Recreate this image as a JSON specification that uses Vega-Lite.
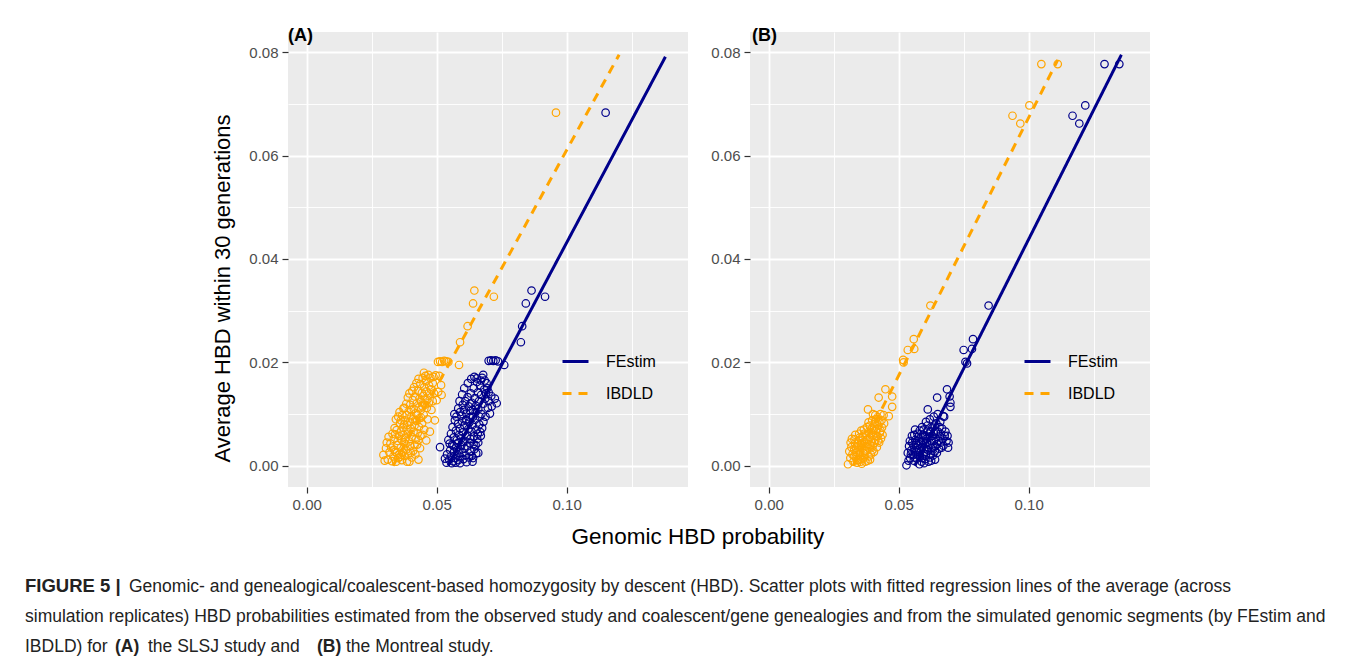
{
  "$schema": "https://vega.github.io/schema/vega-lite/v6.json",
  "background": "white",
  "padding": {"left": 25, "top": 27, "right": 0, "bottom": 0},
  "config": {
    "font": "Liberation Sans",
    "view": {"stroke": null},
    "axis": {
      "labelFont": "Liberation Sans", "labelFontSize": 15, "labelColor": "#4D4D4D",
      "tickColor": "#333333", "tickSize": 6, "tickWidth": 1.2, "labelPadding": 4,
      "domain": false, "gridColor": "white",
      "titleFont": "Liberation Sans", "titleFontSize": 22, "titleFontWeight": "normal", "titleColor": "#000000"
    },
    "legend": {"orient": "none", "legendX": 273, "legendY": 315, "title": null, "symbolType": "stroke", "symbolSize": 676, "symbolStrokeWidth": 3, "labelFontSize": 16, "labelOffset": 16, "rowPadding": 9, "padding": 0, "labelColor": "#000000", "labelFont": "Liberation Sans"}
  },
  "datasets": {
    "lines": [
      {"p": "A", "m": "FEstim", "x": 0.0544, "y": 0.0},
      {"p": "A", "m": "FEstim", "x": 0.1380, "y": 0.0791},
      {"p": "A", "m": "IBDLD", "x": 0.0332, "y": 0.0},
      {"p": "A", "m": "IBDLD", "x": 0.1202, "y": 0.0795},
      {"p": "B", "m": "FEstim", "x": 0.0562, "y": 0.0},
      {"p": "B", "m": "FEstim", "x": 0.1357, "y": 0.0795},
      {"p": "B", "m": "IBDLD", "x": 0.0325, "y": 0.0},
      {"p": "B", "m": "IBDLD", "x": 0.1112, "y": 0.0785}
    ],
    "pts": [
      {"p":"A","m":"IBDLD","x":0.0295,"y":0.0021},{"p":"A","m":"IBDLD","x":0.0305,"y":0.0034},{"p":"A","m":"IBDLD","x":0.0312,"y":0.0012},{"p":"A","m":"IBDLD","x":0.0318,"y":0.0026},{"p":"A","m":"IBDLD","x":0.0322,"y":0.0043},{"p":"A","m":"IBDLD","x":0.0328,"y":0.0009},{"p":"A","m":"IBDLD","x":0.0333,"y":0.0018},{"p":"A","m":"IBDLD","x":0.0336,"y":0.0031},{"p":"A","m":"IBDLD","x":0.0340,"y":0.0027},{"p":"A","m":"IBDLD","x":0.0344,"y":0.0008},{"p":"A","m":"IBDLD","x":0.0348,"y":0.0040},{"p":"A","m":"IBDLD","x":0.0352,"y":0.0015},{"p":"A","m":"IBDLD","x":0.0355,"y":0.0022},{"p":"A","m":"IBDLD","x":0.0359,"y":0.0017},{"p":"A","m":"IBDLD","x":0.0362,"y":0.0035},{"p":"A","m":"IBDLD","x":0.0366,"y":0.0011},{"p":"A","m":"IBDLD","x":0.0370,"y":0.0026},{"p":"A","m":"IBDLD","x":0.0374,"y":0.0045},{"p":"A","m":"IBDLD","x":0.0378,"y":0.0019},{"p":"A","m":"IBDLD","x":0.0382,"y":0.0031},{"p":"A","m":"IBDLD","x":0.0386,"y":0.0008},{"p":"A","m":"IBDLD","x":0.0390,"y":0.0024},{"p":"A","m":"IBDLD","x":0.0395,"y":0.0008},{"p":"A","m":"IBDLD","x":0.0399,"y":0.0038},{"p":"A","m":"IBDLD","x":0.0404,"y":0.0016},{"p":"A","m":"IBDLD","x":0.0410,"y":0.0029},{"p":"A","m":"IBDLD","x":0.0418,"y":0.0022},{"p":"A","m":"IBDLD","x":0.0425,"y":0.0041},{"p":"A","m":"IBDLD","x":0.0436,"y":0.0034},{"p":"A","m":"IBDLD","x":0.0430,"y":0.0012},
      {"p":"A","m":"IBDLD","x":0.0335,"y":0.0052},{"p":"A","m":"IBDLD","x":0.0340,"y":0.0061},{"p":"A","m":"IBDLD","x":0.0346,"y":0.0069},{"p":"A","m":"IBDLD","x":0.0350,"y":0.0048},{"p":"A","m":"IBDLD","x":0.0355,"y":0.0058},{"p":"A","m":"IBDLD","x":0.0359,"y":0.0082},{"p":"A","m":"IBDLD","x":0.0362,"y":0.0066},{"p":"A","m":"IBDLD","x":0.0366,"y":0.0050},{"p":"A","m":"IBDLD","x":0.0370,"y":0.0074},{"p":"A","m":"IBDLD","x":0.0373,"y":0.0060},{"p":"A","m":"IBDLD","x":0.0377,"y":0.0088},{"p":"A","m":"IBDLD","x":0.0380,"y":0.0053},{"p":"A","m":"IBDLD","x":0.0384,"y":0.0070},{"p":"A","m":"IBDLD","x":0.0387,"y":0.0079},{"p":"A","m":"IBDLD","x":0.0390,"y":0.0062},{"p":"A","m":"IBDLD","x":0.0394,"y":0.0047},{"p":"A","m":"IBDLD","x":0.0397,"y":0.0085},{"p":"A","m":"IBDLD","x":0.0400,"y":0.0072},{"p":"A","m":"IBDLD","x":0.0404,"y":0.0056},{"p":"A","m":"IBDLD","x":0.0408,"y":0.0090},{"p":"A","m":"IBDLD","x":0.0411,"y":0.0066},{"p":"A","m":"IBDLD","x":0.0415,"y":0.0078},{"p":"A","m":"IBDLD","x":0.0419,"y":0.0051},{"p":"A","m":"IBDLD","x":0.0423,"y":0.0087},{"p":"A","m":"IBDLD","x":0.0427,"y":0.0063},{"p":"A","m":"IBDLD","x":0.0432,"y":0.0075},{"p":"A","m":"IBDLD","x":0.0438,"y":0.0058},{"p":"A","m":"IBDLD","x":0.0444,"y":0.0082},{"p":"A","m":"IBDLD","x":0.0452,"y":0.0070},{"p":"A","m":"IBDLD","x":0.0474,"y":0.0066},{"p":"A","m":"IBDLD","x":0.0460,"y":0.0049},
      {"p":"A","m":"IBDLD","x":0.0372,"y":0.0111},{"p":"A","m":"IBDLD","x":0.0376,"y":0.0112},{"p":"A","m":"IBDLD","x":0.0385,"y":0.0098},{"p":"A","m":"IBDLD","x":0.0392,"y":0.0105},{"p":"A","m":"IBDLD","x":0.0398,"y":0.0118},{"p":"A","m":"IBDLD","x":0.0403,"y":0.0096},{"p":"A","m":"IBDLD","x":0.0408,"y":0.0127},{"p":"A","m":"IBDLD","x":0.0412,"y":0.0110},{"p":"A","m":"IBDLD","x":0.0416,"y":0.0134},{"p":"A","m":"IBDLD","x":0.0420,"y":0.0102},{"p":"A","m":"IBDLD","x":0.0424,"y":0.0121},{"p":"A","m":"IBDLD","x":0.0428,"y":0.0145},{"p":"A","m":"IBDLD","x":0.0431,"y":0.0113},{"p":"A","m":"IBDLD","x":0.0434,"y":0.0130},{"p":"A","m":"IBDLD","x":0.0437,"y":0.0158},{"p":"A","m":"IBDLD","x":0.0440,"y":0.0124},{"p":"A","m":"IBDLD","x":0.0443,"y":0.0141},{"p":"A","m":"IBDLD","x":0.0446,"y":0.0170},{"p":"A","m":"IBDLD","x":0.0449,"y":0.0135},{"p":"A","m":"IBDLD","x":0.0452,"y":0.0152},{"p":"A","m":"IBDLD","x":0.0455,"y":0.0118},{"p":"A","m":"IBDLD","x":0.0458,"y":0.0163},{"p":"A","m":"IBDLD","x":0.0461,"y":0.0144},{"p":"A","m":"IBDLD","x":0.0464,"y":0.0128},{"p":"A","m":"IBDLD","x":0.0468,"y":0.0176},{"p":"A","m":"IBDLD","x":0.0471,"y":0.0155},{"p":"A","m":"IBDLD","x":0.0475,"y":0.0138},{"p":"A","m":"IBDLD","x":0.0480,"y":0.0108},{"p":"A","m":"IBDLD","x":0.0493,"y":0.0088},{"p":"A","m":"IBDLD","x":0.0500,"y":0.0127},{"p":"A","m":"IBDLD","x":0.0506,"y":0.0143},{"p":"A","m":"IBDLD","x":0.0517,"y":0.0156},{"p":"A","m":"IBDLD","x":0.0519,"y":0.0137},{"p":"A","m":"IBDLD","x":0.0510,"y":0.0174},{"p":"A","m":"IBDLD","x":0.0457,"y":0.0174},{"p":"A","m":"IBDLD","x":0.0450,"y":0.0099},{"p":"A","m":"IBDLD","x":0.0440,"y":0.0093},
      {"p":"A","m":"IBDLD","x":0.0300,"y":0.0010},{"p":"A","m":"IBDLD","x":0.0308,"y":0.0045},{"p":"A","m":"IBDLD","x":0.0315,"y":0.0056},{"p":"A","m":"IBDLD","x":0.0325,"y":0.0035},{"p":"A","m":"IBDLD","x":0.0330,"y":0.0062},{"p":"A","m":"IBDLD","x":0.0338,"y":0.0073},{"p":"A","m":"IBDLD","x":0.0343,"y":0.0090},{"p":"A","m":"IBDLD","x":0.0352,"y":0.0095},{"p":"A","m":"IBDLD","x":0.0357,"y":0.0104},{"p":"A","m":"IBDLD","x":0.0362,"y":0.0088},{"p":"A","m":"IBDLD","x":0.0368,"y":0.0098},{"p":"A","m":"IBDLD","x":0.0375,"y":0.0080},{"p":"A","m":"IBDLD","x":0.0383,"y":0.0120},{"p":"A","m":"IBDLD","x":0.0389,"y":0.0132},{"p":"A","m":"IBDLD","x":0.0395,"y":0.0140},{"p":"A","m":"IBDLD","x":0.0401,"y":0.0108},{"p":"A","m":"IBDLD","x":0.0406,"y":0.0145},{"p":"A","m":"IBDLD","x":0.0413,"y":0.0152},{"p":"A","m":"IBDLD","x":0.0418,"y":0.0088},{"p":"A","m":"IBDLD","x":0.0422,"y":0.0160},{"p":"A","m":"IBDLD","x":0.0426,"y":0.0099},{"p":"A","m":"IBDLD","x":0.0430,"y":0.0168},{"p":"A","m":"IBDLD","x":0.0433,"y":0.0092},{"p":"A","m":"IBDLD","x":0.0439,"y":0.0108},{"p":"A","m":"IBDLD","x":0.0445,"y":0.0115},{"p":"A","m":"IBDLD","x":0.0454,"y":0.0128},{"p":"A","m":"IBDLD","x":0.0462,"y":0.0112},{"p":"A","m":"IBDLD","x":0.0470,"y":0.0122},{"p":"A","m":"IBDLD","x":0.0478,"y":0.0148},{"p":"A","m":"IBDLD","x":0.0485,"y":0.0160},{"p":"A","m":"IBDLD","x":0.0490,"y":0.0140},{"p":"A","m":"IBDLD","x":0.0485,"y":0.0125},{"p":"A","m":"IBDLD","x":0.0465,"y":0.0090},{"p":"A","m":"IBDLD","x":0.0445,"y":0.0060},{"p":"A","m":"IBDLD","x":0.0430,"y":0.0050},{"p":"A","m":"IBDLD","x":0.0415,"y":0.0040},{"p":"A","m":"IBDLD","x":0.0400,"y":0.0025},{"p":"A","m":"IBDLD","x":0.0380,"y":0.0042},{"p":"A","m":"IBDLD","x":0.0365,"y":0.0021},{"p":"A","m":"IBDLD","x":0.0347,"y":0.0025},{"p":"A","m":"IBDLD","x":0.0460,"y":0.0165},{"p":"A","m":"IBDLD","x":0.0476,"y":0.0170},{"p":"A","m":"IBDLD","x":0.0488,"y":0.0172},{"p":"A","m":"IBDLD","x":0.0496,"y":0.0175},{"p":"A","m":"IBDLD","x":0.0451,"y":0.0180},
      {"p":"A","m":"IBDLD","x":0.0505,"y":0.0201},{"p":"A","m":"IBDLD","x":0.0513,"y":0.0202},{"p":"A","m":"IBDLD","x":0.0521,"y":0.0201},{"p":"A","m":"IBDLD","x":0.0529,"y":0.0203},{"p":"A","m":"IBDLD","x":0.0537,"y":0.0202},{"p":"A","m":"IBDLD","x":0.0545,"y":0.0201},{"p":"A","m":"IBDLD","x":0.0586,"y":0.0195},{"p":"A","m":"IBDLD","x":0.0590,"y":0.0239},{"p":"A","m":"IBDLD","x":0.0619,"y":0.0270},{"p":"A","m":"IBDLD","x":0.0640,"y":0.0314},{"p":"A","m":"IBDLD","x":0.0645,"y":0.0339},{"p":"A","m":"IBDLD","x":0.0720,"y":0.0327},{"p":"A","m":"IBDLD","x":0.0959,"y":0.0683},
      {"p":"A","m":"FEstim","x":0.0513,"y":0.0036},{"p":"A","m":"FEstim","x":0.0532,"y":0.0014},{"p":"A","m":"FEstim","x":0.0540,"y":0.0022},{"p":"A","m":"FEstim","x":0.0545,"y":0.0050},{"p":"A","m":"FEstim","x":0.0548,"y":0.0012},{"p":"A","m":"FEstim","x":0.0552,"y":0.0030},{"p":"A","m":"FEstim","x":0.0556,"y":0.0019},{"p":"A","m":"FEstim","x":0.0560,"y":0.0041},{"p":"A","m":"FEstim","x":0.0563,"y":0.0009},{"p":"A","m":"FEstim","x":0.0567,"y":0.0027},{"p":"A","m":"FEstim","x":0.0571,"y":0.0015},{"p":"A","m":"FEstim","x":0.0575,"y":0.0035},{"p":"A","m":"FEstim","x":0.0579,"y":0.0022},{"p":"A","m":"FEstim","x":0.0583,"y":0.0011},{"p":"A","m":"FEstim","x":0.0587,"y":0.0030},{"p":"A","m":"FEstim","x":0.0591,"y":0.0018},{"p":"A","m":"FEstim","x":0.0595,"y":0.0040},{"p":"A","m":"FEstim","x":0.0599,"y":0.0025},{"p":"A","m":"FEstim","x":0.0603,"y":0.0013},{"p":"A","m":"FEstim","x":0.0607,"y":0.0033},{"p":"A","m":"FEstim","x":0.0612,"y":0.0020},{"p":"A","m":"FEstim","x":0.0618,"y":0.0038},{"p":"A","m":"FEstim","x":0.0624,"y":0.0016},{"p":"A","m":"FEstim","x":0.0630,"y":0.0028},{"p":"A","m":"FEstim","x":0.0638,"y":0.0008},{"p":"A","m":"FEstim","x":0.0635,"y":0.0019},{"p":"A","m":"FEstim","x":0.0645,"y":0.0032},{"p":"A","m":"FEstim","x":0.0652,"y":0.0024},
      {"p":"A","m":"FEstim","x":0.0555,"y":0.0062},{"p":"A","m":"FEstim","x":0.0561,"y":0.0075},{"p":"A","m":"FEstim","x":0.0566,"y":0.0055},{"p":"A","m":"FEstim","x":0.0570,"y":0.0088},{"p":"A","m":"FEstim","x":0.0574,"y":0.0068},{"p":"A","m":"FEstim","x":0.0578,"y":0.0050},{"p":"A","m":"FEstim","x":0.0582,"y":0.0081},{"p":"A","m":"FEstim","x":0.0586,"y":0.0060},{"p":"A","m":"FEstim","x":0.0590,"y":0.0072},{"p":"A","m":"FEstim","x":0.0594,"y":0.0053},{"p":"A","m":"FEstim","x":0.0598,"y":0.0086},{"p":"A","m":"FEstim","x":0.0602,"y":0.0065},{"p":"A","m":"FEstim","x":0.0606,"y":0.0078},{"p":"A","m":"FEstim","x":0.0610,"y":0.0048},{"p":"A","m":"FEstim","x":0.0614,"y":0.0090},{"p":"A","m":"FEstim","x":0.0618,"y":0.0059},{"p":"A","m":"FEstim","x":0.0622,"y":0.0071},{"p":"A","m":"FEstim","x":0.0626,"y":0.0084},{"p":"A","m":"FEstim","x":0.0630,"y":0.0052},{"p":"A","m":"FEstim","x":0.0634,"y":0.0066},{"p":"A","m":"FEstim","x":0.0638,"y":0.0079},{"p":"A","m":"FEstim","x":0.0643,"y":0.0057},{"p":"A","m":"FEstim","x":0.0648,"y":0.0089},{"p":"A","m":"FEstim","x":0.0653,"y":0.0070},{"p":"A","m":"FEstim","x":0.0658,"y":0.0062},{"p":"A","m":"FEstim","x":0.0664,"y":0.0080},{"p":"A","m":"FEstim","x":0.0670,"y":0.0058},{"p":"A","m":"FEstim","x":0.0675,"y":0.0073},{"p":"A","m":"FEstim","x":0.0660,"y":0.0045},{"p":"A","m":"FEstim","x":0.0642,"y":0.0042},
      {"p":"A","m":"FEstim","x":0.0583,"y":0.0111},{"p":"A","m":"FEstim","x":0.0590,"y":0.0104},{"p":"A","m":"FEstim","x":0.0596,"y":0.0097},{"p":"A","m":"FEstim","x":0.0600,"y":0.0118},{"p":"A","m":"FEstim","x":0.0605,"y":0.0108},{"p":"A","m":"FEstim","x":0.0610,"y":0.0125},{"p":"A","m":"FEstim","x":0.0614,"y":0.0101},{"p":"A","m":"FEstim","x":0.0619,"y":0.0133},{"p":"A","m":"FEstim","x":0.0623,"y":0.0115},{"p":"A","m":"FEstim","x":0.0627,"y":0.0094},{"p":"A","m":"FEstim","x":0.0631,"y":0.0140},{"p":"A","m":"FEstim","x":0.0635,"y":0.0122},{"p":"A","m":"FEstim","x":0.0639,"y":0.0108},{"p":"A","m":"FEstim","x":0.0643,"y":0.0150},{"p":"A","m":"FEstim","x":0.0647,"y":0.0131},{"p":"A","m":"FEstim","x":0.0651,"y":0.0116},{"p":"A","m":"FEstim","x":0.0655,"y":0.0162},{"p":"A","m":"FEstim","x":0.0654,"y":0.0169},{"p":"A","m":"FEstim","x":0.0659,"y":0.0142},{"p":"A","m":"FEstim","x":0.0663,"y":0.0125},{"p":"A","m":"FEstim","x":0.0667,"y":0.0155},{"p":"A","m":"FEstim","x":0.0671,"y":0.0137},{"p":"A","m":"FEstim","x":0.0675,"y":0.0170},{"p":"A","m":"FEstim","x":0.0679,"y":0.0176},{"p":"A","m":"FEstim","x":0.0683,"y":0.0148},{"p":"A","m":"FEstim","x":0.0687,"y":0.0130},{"p":"A","m":"FEstim","x":0.0692,"y":0.0160},{"p":"A","m":"FEstim","x":0.0697,"y":0.0112},{"p":"A","m":"FEstim","x":0.0705,"y":0.0101},{"p":"A","m":"FEstim","x":0.0724,"y":0.0130},{"p":"A","m":"FEstim","x":0.0731,"y":0.0121},{"p":"A","m":"FEstim","x":0.0700,"y":0.0142},{"p":"A","m":"FEstim","x":0.0688,"y":0.0095},{"p":"A","m":"FEstim","x":0.0672,"y":0.0100},
      {"p":"A","m":"FEstim","x":0.0538,"y":0.0006},{"p":"A","m":"FEstim","x":0.0550,"y":0.0043},{"p":"A","m":"FEstim","x":0.0558,"y":0.0005},{"p":"A","m":"FEstim","x":0.0565,"y":0.0038},{"p":"A","m":"FEstim","x":0.0573,"y":0.0006},{"p":"A","m":"FEstim","x":0.0581,"y":0.0044},{"p":"A","m":"FEstim","x":0.0590,"y":0.0005},{"p":"A","m":"FEstim","x":0.0600,"y":0.0046},{"p":"A","m":"FEstim","x":0.0615,"y":0.0007},{"p":"A","m":"FEstim","x":0.0628,"y":0.0044},{"p":"A","m":"FEstim","x":0.0640,"y":0.0015},{"p":"A","m":"FEstim","x":0.0650,"y":0.0040},{"p":"A","m":"FEstim","x":0.0660,"y":0.0025},{"p":"A","m":"FEstim","x":0.0568,"y":0.0100},{"p":"A","m":"FEstim","x":0.0576,"y":0.0095},{"p":"A","m":"FEstim","x":0.0588,"y":0.0125},{"p":"A","m":"FEstim","x":0.0598,"y":0.0138},{"p":"A","m":"FEstim","x":0.0606,"y":0.0150},{"p":"A","m":"FEstim","x":0.0612,"y":0.0088},{"p":"A","m":"FEstim","x":0.0620,"y":0.0160},{"p":"A","m":"FEstim","x":0.0628,"y":0.0106},{"p":"A","m":"FEstim","x":0.0633,"y":0.0168},{"p":"A","m":"FEstim","x":0.0640,"y":0.0095},{"p":"A","m":"FEstim","x":0.0645,"y":0.0172},{"p":"A","m":"FEstim","x":0.0650,"y":0.0104},{"p":"A","m":"FEstim","x":0.0660,"y":0.0110},{"p":"A","m":"FEstim","x":0.0665,"y":0.0095},{"p":"A","m":"FEstim","x":0.0670,"y":0.0165},{"p":"A","m":"FEstim","x":0.0680,"y":0.0120},{"p":"A","m":"FEstim","x":0.0685,"y":0.0165},{"p":"A","m":"FEstim","x":0.0690,"y":0.0140},{"p":"A","m":"FEstim","x":0.0695,"y":0.0150},{"p":"A","m":"FEstim","x":0.0700,"y":0.0125},{"p":"A","m":"FEstim","x":0.0710,"y":0.0135},{"p":"A","m":"FEstim","x":0.0712,"y":0.0115},{"p":"A","m":"FEstim","x":0.0680,"y":0.0085},{"p":"A","m":"FEstim","x":0.0668,"y":0.0065},{"p":"A","m":"FEstim","x":0.0656,"y":0.0052},{"p":"A","m":"FEstim","x":0.0630,"y":0.0120},
      {"p":"A","m":"FEstim","x":0.0700,"y":0.0203},{"p":"A","m":"FEstim","x":0.0709,"y":0.0204},{"p":"A","m":"FEstim","x":0.0718,"y":0.0203},{"p":"A","m":"FEstim","x":0.0727,"y":0.0204},{"p":"A","m":"FEstim","x":0.0736,"y":0.0202},{"p":"A","m":"FEstim","x":0.0760,"y":0.0195},{"p":"A","m":"FEstim","x":0.0824,"y":0.0239},{"p":"A","m":"FEstim","x":0.0829,"y":0.0270},{"p":"A","m":"FEstim","x":0.0843,"y":0.0314},{"p":"A","m":"FEstim","x":0.0865,"y":0.0339},{"p":"A","m":"FEstim","x":0.0917,"y":0.0327},{"p":"A","m":"FEstim","x":0.1150,"y":0.0683},
      {"p":"B","m":"IBDLD","x":0.0305,"y":0.0003},{"p":"B","m":"IBDLD","x":0.0310,"y":0.0028},{"p":"B","m":"IBDLD","x":0.0314,"y":0.0015},{"p":"B","m":"IBDLD","x":0.0318,"y":0.0036},{"p":"B","m":"IBDLD","x":0.0322,"y":0.0022},{"p":"B","m":"IBDLD","x":0.0326,"y":0.0008},{"p":"B","m":"IBDLD","x":0.0329,"y":0.0031},{"p":"B","m":"IBDLD","x":0.0332,"y":0.0043},{"p":"B","m":"IBDLD","x":0.0335,"y":0.0017},{"p":"B","m":"IBDLD","x":0.0338,"y":0.0026},{"p":"B","m":"IBDLD","x":0.0341,"y":0.0038},{"p":"B","m":"IBDLD","x":0.0344,"y":0.0011},{"p":"B","m":"IBDLD","x":0.0347,"y":0.0049},{"p":"B","m":"IBDLD","x":0.0350,"y":0.0030},{"p":"B","m":"IBDLD","x":0.0352,"y":0.0020},{"p":"B","m":"IBDLD","x":0.0355,"y":0.0041},{"p":"B","m":"IBDLD","x":0.0357,"y":0.0013},{"p":"B","m":"IBDLD","x":0.0360,"y":0.0034},{"p":"B","m":"IBDLD","x":0.0362,"y":0.0055},{"p":"B","m":"IBDLD","x":0.0364,"y":0.0025},{"p":"B","m":"IBDLD","x":0.0367,"y":0.0046},{"p":"B","m":"IBDLD","x":0.0369,"y":0.0018},{"p":"B","m":"IBDLD","x":0.0372,"y":0.0038},{"p":"B","m":"IBDLD","x":0.0374,"y":0.0060},{"p":"B","m":"IBDLD","x":0.0376,"y":0.0029},{"p":"B","m":"IBDLD","x":0.0379,"y":0.0050},{"p":"B","m":"IBDLD","x":0.0381,"y":0.0010},{"p":"B","m":"IBDLD","x":0.0383,"y":0.0042},{"p":"B","m":"IBDLD","x":0.0386,"y":0.0066},{"p":"B","m":"IBDLD","x":0.0388,"y":0.0033},{"p":"B","m":"IBDLD","x":0.0390,"y":0.0055},{"p":"B","m":"IBDLD","x":0.0393,"y":0.0022},{"p":"B","m":"IBDLD","x":0.0395,"y":0.0047},{"p":"B","m":"IBDLD","x":0.0397,"y":0.0072},{"p":"B","m":"IBDLD","x":0.0400,"y":0.0038},{"p":"B","m":"IBDLD","x":0.0402,"y":0.0060},{"p":"B","m":"IBDLD","x":0.0405,"y":0.0027},{"p":"B","m":"IBDLD","x":0.0407,"y":0.0081},{"p":"B","m":"IBDLD","x":0.0410,"y":0.0050},{"p":"B","m":"IBDLD","x":0.0413,"y":0.0068},{"p":"B","m":"IBDLD","x":0.0416,"y":0.0036},{"p":"B","m":"IBDLD","x":0.0419,"y":0.0057},{"p":"B","m":"IBDLD","x":0.0422,"y":0.0078},{"p":"B","m":"IBDLD","x":0.0425,"y":0.0045},{"p":"B","m":"IBDLD","x":0.0428,"y":0.0064},{"p":"B","m":"IBDLD","x":0.0432,"y":0.0053},{"p":"B","m":"IBDLD","x":0.0436,"y":0.0074},{"p":"B","m":"IBDLD","x":0.0340,"y":0.0006},{"p":"B","m":"IBDLD","x":0.0358,"y":0.0004},{"p":"B","m":"IBDLD","x":0.0372,"y":0.0008},{"p":"B","m":"IBDLD","x":0.0390,"y":0.0012},{"p":"B","m":"IBDLD","x":0.0330,"y":0.0051},{"p":"B","m":"IBDLD","x":0.0348,"y":0.0062},{"p":"B","m":"IBDLD","x":0.0366,"y":0.0070},{"p":"B","m":"IBDLD","x":0.0384,"y":0.0084},{"p":"B","m":"IBDLD","x":0.0398,"y":0.0088},{"p":"B","m":"IBDLD","x":0.0412,"y":0.0090},{"p":"B","m":"IBDLD","x":0.0382,"y":0.0109},{"p":"B","m":"IBDLD","x":0.0410,"y":0.0098},{"p":"B","m":"IBDLD","x":0.0442,"y":0.0098},{"p":"B","m":"IBDLD","x":0.0462,"y":0.0096},{"p":"B","m":"IBDLD","x":0.0475,"y":0.0114},{"p":"B","m":"IBDLD","x":0.0423,"y":0.0132},{"p":"B","m":"IBDLD","x":0.0475,"y":0.0134},{"p":"B","m":"IBDLD","x":0.0449,"y":0.0148},
      {"p":"B","m":"IBDLD","x":0.0315,"y":0.0045},{"p":"B","m":"IBDLD","x":0.0320,"y":0.0052},{"p":"B","m":"IBDLD","x":0.0328,"y":0.0019},{"p":"B","m":"IBDLD","x":0.0333,"y":0.0060},{"p":"B","m":"IBDLD","x":0.0337,"y":0.0035},{"p":"B","m":"IBDLD","x":0.0343,"y":0.0045},{"p":"B","m":"IBDLD","x":0.0346,"y":0.0022},{"p":"B","m":"IBDLD","x":0.0351,"y":0.0055},{"p":"B","m":"IBDLD","x":0.0354,"y":0.0008},{"p":"B","m":"IBDLD","x":0.0356,"y":0.0068},{"p":"B","m":"IBDLD","x":0.0361,"y":0.0044},{"p":"B","m":"IBDLD","x":0.0365,"y":0.0015},{"p":"B","m":"IBDLD","x":0.0368,"y":0.0062},{"p":"B","m":"IBDLD","x":0.0371,"y":0.0028},{"p":"B","m":"IBDLD","x":0.0375,"y":0.0050},{"p":"B","m":"IBDLD","x":0.0378,"y":0.0075},{"p":"B","m":"IBDLD","x":0.0380,"y":0.0036},{"p":"B","m":"IBDLD","x":0.0385,"y":0.0018},{"p":"B","m":"IBDLD","x":0.0389,"y":0.0078},{"p":"B","m":"IBDLD","x":0.0392,"y":0.0040},{"p":"B","m":"IBDLD","x":0.0396,"y":0.0064},{"p":"B","m":"IBDLD","x":0.0399,"y":0.0030},{"p":"B","m":"IBDLD","x":0.0403,"y":0.0070},{"p":"B","m":"IBDLD","x":0.0406,"y":0.0044},{"p":"B","m":"IBDLD","x":0.0409,"y":0.0085},{"p":"B","m":"IBDLD","x":0.0414,"y":0.0058},{"p":"B","m":"IBDLD","x":0.0418,"y":0.0072},{"p":"B","m":"IBDLD","x":0.0421,"y":0.0048},{"p":"B","m":"IBDLD","x":0.0426,"y":0.0084},{"p":"B","m":"IBDLD","x":0.0430,"y":0.0068},{"p":"B","m":"IBDLD","x":0.0434,"y":0.0088},{"p":"B","m":"IBDLD","x":0.0438,"y":0.0060},{"p":"B","m":"IBDLD","x":0.0401,"y":0.0100},{"p":"B","m":"IBDLD","x":0.0419,"y":0.0094},{"p":"B","m":"IBDLD","x":0.0430,"y":0.0100},{"p":"B","m":"IBDLD","x":0.0444,"y":0.0082},
      {"p":"B","m":"IBDLD","x":0.0519,"y":0.0200},{"p":"B","m":"IBDLD","x":0.0517,"y":0.0205},{"p":"B","m":"IBDLD","x":0.0535,"y":0.0224},{"p":"B","m":"IBDLD","x":0.0560,"y":0.0226},{"p":"B","m":"IBDLD","x":0.0558,"y":0.0245},{"p":"B","m":"IBDLD","x":0.0622,"y":0.0310},{"p":"B","m":"IBDLD","x":0.0938,"y":0.0677},{"p":"B","m":"IBDLD","x":0.0968,"y":0.0662},{"p":"B","m":"IBDLD","x":0.1003,"y":0.0697},{"p":"B","m":"IBDLD","x":0.1049,"y":0.0777},{"p":"B","m":"IBDLD","x":0.1112,"y":0.0777},
      {"p":"B","m":"FEstim","x":0.0530,"y":0.0001},{"p":"B","m":"FEstim","x":0.0535,"y":0.0025},{"p":"B","m":"FEstim","x":0.0540,"y":0.0038},{"p":"B","m":"FEstim","x":0.0544,"y":0.0015},{"p":"B","m":"FEstim","x":0.0548,"y":0.0030},{"p":"B","m":"FEstim","x":0.0552,"y":0.0045},{"p":"B","m":"FEstim","x":0.0555,"y":0.0021},{"p":"B","m":"FEstim","x":0.0558,"y":0.0010},{"p":"B","m":"FEstim","x":0.0561,"y":0.0034},{"p":"B","m":"FEstim","x":0.0564,"y":0.0050},{"p":"B","m":"FEstim","x":0.0567,"y":0.0026},{"p":"B","m":"FEstim","x":0.0570,"y":0.0014},{"p":"B","m":"FEstim","x":0.0573,"y":0.0040},{"p":"B","m":"FEstim","x":0.0576,"y":0.0056},{"p":"B","m":"FEstim","x":0.0579,"y":0.0031},{"p":"B","m":"FEstim","x":0.0582,"y":0.0019},{"p":"B","m":"FEstim","x":0.0585,"y":0.0046},{"p":"B","m":"FEstim","x":0.0588,"y":0.0008},{"p":"B","m":"FEstim","x":0.0591,"y":0.0036},{"p":"B","m":"FEstim","x":0.0594,"y":0.0060},{"p":"B","m":"FEstim","x":0.0597,"y":0.0024},{"p":"B","m":"FEstim","x":0.0600,"y":0.0043},{"p":"B","m":"FEstim","x":0.0603,"y":0.0013},{"p":"B","m":"FEstim","x":0.0606,"y":0.0052},{"p":"B","m":"FEstim","x":0.0609,"y":0.0032},{"p":"B","m":"FEstim","x":0.0612,"y":0.0068},{"p":"B","m":"FEstim","x":0.0615,"y":0.0008},{"p":"B","m":"FEstim","x":0.0618,"y":0.0040},{"p":"B","m":"FEstim","x":0.0621,"y":0.0057},{"p":"B","m":"FEstim","x":0.0624,"y":0.0022},{"p":"B","m":"FEstim","x":0.0627,"y":0.0048},{"p":"B","m":"FEstim","x":0.0630,"y":0.0074},{"p":"B","m":"FEstim","x":0.0633,"y":0.0035},{"p":"B","m":"FEstim","x":0.0636,"y":0.0062},{"p":"B","m":"FEstim","x":0.0639,"y":0.0028},{"p":"B","m":"FEstim","x":0.0642,"y":0.0053},{"p":"B","m":"FEstim","x":0.0645,"y":0.0082},{"p":"B","m":"FEstim","x":0.0648,"y":0.0042},{"p":"B","m":"FEstim","x":0.0651,"y":0.0066},{"p":"B","m":"FEstim","x":0.0655,"y":0.0033},{"p":"B","m":"FEstim","x":0.0659,"y":0.0057},{"p":"B","m":"FEstim","x":0.0663,"y":0.0045},{"p":"B","m":"FEstim","x":0.0667,"y":0.0072},{"p":"B","m":"FEstim","x":0.0672,"y":0.0039},{"p":"B","m":"FEstim","x":0.0677,"y":0.0058},{"p":"B","m":"FEstim","x":0.0684,"y":0.0048},{"p":"B","m":"FEstim","x":0.0690,"y":0.0035},{"p":"B","m":"FEstim","x":0.0580,"y":0.0003},{"p":"B","m":"FEstim","x":0.0598,"y":0.0005},{"p":"B","m":"FEstim","x":0.0625,"y":0.0010},{"p":"B","m":"FEstim","x":0.0640,"y":0.0012},{"p":"B","m":"FEstim","x":0.0560,"y":0.0060},{"p":"B","m":"FEstim","x":0.0590,"y":0.0075},{"p":"B","m":"FEstim","x":0.0605,"y":0.0085},{"p":"B","m":"FEstim","x":0.0620,"y":0.0090},{"p":"B","m":"FEstim","x":0.0635,"y":0.0095},{"p":"B","m":"FEstim","x":0.0650,"y":0.0100},{"p":"B","m":"FEstim","x":0.0660,"y":0.0085},{"p":"B","m":"FEstim","x":0.0675,"y":0.0095},{"p":"B","m":"FEstim","x":0.0612,"y":0.0109},{"p":"B","m":"FEstim","x":0.0671,"y":0.0096},{"p":"B","m":"FEstim","x":0.0699,"y":0.0114},{"p":"B","m":"FEstim","x":0.0699,"y":0.0122},{"p":"B","m":"FEstim","x":0.0648,"y":0.0132},{"p":"B","m":"FEstim","x":0.0696,"y":0.0134},{"p":"B","m":"FEstim","x":0.0686,"y":0.0148},
      {"p":"B","m":"FEstim","x":0.0538,"y":0.0010},{"p":"B","m":"FEstim","x":0.0543,"y":0.0048},{"p":"B","m":"FEstim","x":0.0547,"y":0.0022},{"p":"B","m":"FEstim","x":0.0551,"y":0.0058},{"p":"B","m":"FEstim","x":0.0556,"y":0.0040},{"p":"B","m":"FEstim","x":0.0560,"y":0.0016},{"p":"B","m":"FEstim","x":0.0563,"y":0.0070},{"p":"B","m":"FEstim","x":0.0566,"y":0.0044},{"p":"B","m":"FEstim","x":0.0569,"y":0.0030},{"p":"B","m":"FEstim","x":0.0572,"y":0.0062},{"p":"B","m":"FEstim","x":0.0575,"y":0.0020},{"p":"B","m":"FEstim","x":0.0578,"y":0.0048},{"p":"B","m":"FEstim","x":0.0581,"y":0.0068},{"p":"B","m":"FEstim","x":0.0584,"y":0.0028},{"p":"B","m":"FEstim","x":0.0587,"y":0.0055},{"p":"B","m":"FEstim","x":0.0590,"y":0.0015},{"p":"B","m":"FEstim","x":0.0593,"y":0.0048},{"p":"B","m":"FEstim","x":0.0596,"y":0.0070},{"p":"B","m":"FEstim","x":0.0599,"y":0.0033},{"p":"B","m":"FEstim","x":0.0602,"y":0.0058},{"p":"B","m":"FEstim","x":0.0605,"y":0.0022},{"p":"B","m":"FEstim","x":0.0608,"y":0.0045},{"p":"B","m":"FEstim","x":0.0611,"y":0.0078},{"p":"B","m":"FEstim","x":0.0614,"y":0.0030},{"p":"B","m":"FEstim","x":0.0617,"y":0.0062},{"p":"B","m":"FEstim","x":0.0620,"y":0.0016},{"p":"B","m":"FEstim","x":0.0623,"y":0.0066},{"p":"B","m":"FEstim","x":0.0626,"y":0.0034},{"p":"B","m":"FEstim","x":0.0629,"y":0.0058},{"p":"B","m":"FEstim","x":0.0632,"y":0.0020},{"p":"B","m":"FEstim","x":0.0635,"y":0.0048},{"p":"B","m":"FEstim","x":0.0638,"y":0.0078},{"p":"B","m":"FEstim","x":0.0641,"y":0.0038},{"p":"B","m":"FEstim","x":0.0644,"y":0.0065},{"p":"B","m":"FEstim","x":0.0647,"y":0.0025},{"p":"B","m":"FEstim","x":0.0653,"y":0.0048},{"p":"B","m":"FEstim","x":0.0657,"y":0.0075},{"p":"B","m":"FEstim","x":0.0661,"y":0.0062},{"p":"B","m":"FEstim","x":0.0665,"y":0.0035},{"p":"B","m":"FEstim","x":0.0670,"y":0.0052},{"p":"B","m":"FEstim","x":0.0680,"y":0.0066},{"p":"B","m":"FEstim","x":0.0688,"y":0.0058},{"p":"B","m":"FEstim","x":0.0692,"y":0.0045},
      {"p":"B","m":"FEstim","x":0.0757,"y":0.0201},{"p":"B","m":"FEstim","x":0.0763,"y":0.0198},{"p":"B","m":"FEstim","x":0.0750,"y":0.0224},{"p":"B","m":"FEstim","x":0.0782,"y":0.0226},{"p":"B","m":"FEstim","x":0.0786,"y":0.0245},{"p":"B","m":"FEstim","x":0.0846,"y":0.0310},{"p":"B","m":"FEstim","x":0.1169,"y":0.0677},{"p":"B","m":"FEstim","x":0.1195,"y":0.0662},{"p":"B","m":"FEstim","x":0.1218,"y":0.0697},{"p":"B","m":"FEstim","x":0.1292,"y":0.0777},{"p":"B","m":"FEstim","x":0.1349,"y":0.0777}
    ],
    "cap": [
      {"line": 1, "s": "b1", "t": "FIGURE 5 |"},
      {"line": 1, "s": "r1", "t": "Genomic- and genealogical/coalescent-based homozygosity by descent (HBD). Scatter plots with fitted regression lines of the average (across"},
      {"line": 2, "s": "r2", "t": "simulation replicates) HBD probabilities estimated from the observed study and coalescent/gene genealogies and from the simulated genomic segments (by FEstim and"},
      {"line": 3, "s": "r3", "t": "IBDLD) for"},
      {"line": 3, "s": "bA", "t": "(A)"},
      {"line": 3, "s": "r4", "t": "the SLSJ study and"},
      {"line": 3, "s": "bB", "t": "(B)"},
      {"line": 3, "s": "r5", "t": "the Montreal study."}
    ]
  },
  "center": true,
  "spacing": 28,
  "vconcat": [
    {
      "spacing": 22,
      "resolve": {"legend": {"color": "independent", "strokeDash": "independent"}},
      "title": {"text": "Genomic HBD probability", "orient": "bottom", "anchor": "middle", "fontSize": 22.5, "fontWeight": "normal", "color": "#000000", "offset": 14, "dx": 17, "font": "Liberation Sans"},
      "hconcat": [
        {
          "width": 400, "height": 455,
          "view": {"fill": "#EBEBEB", "stroke": null},
          "title": {"text": "(A)", "anchor": "start", "frame": "group", "fontSize": 18, "fontWeight": "bold", "color": "#000000", "offset": -13, "font": "Liberation Sans"},
          "resolve": {"scale": {"x": "independent", "y": "independent"}, "axis": {"x": "independent", "y": "independent"}},
          "layer": [
            {
              "data": {"name": "pts"},
              "transform": [{"filter": "datum.p === 'A'"}],
              "mark": {"type": "point", "shape": "circle", "filled": false, "size": 56, "strokeWidth": 1.2, "opacity": 1},
              "encoding": {
                "x": {"field": "x", "type": "quantitative", "scale": {"domain": [-0.0072, 0.1467], "nice": false, "zero": false}, "axis": {"values": [0, 0.05, 0.1], "format": ".2f", "title": null, "grid": true, "gridWidth": 1.8}},
                "y": {"field": "y", "type": "quantitative", "scale": {"domain": [-0.0041, 0.0839], "nice": false, "zero": false}, "axis": {"values": [0, 0.02, 0.04, 0.06, 0.08], "format": ".2f", "title": "Average HBD within 30 generations", "titlePadding": 14, "titleY": 256, "grid": true, "gridWidth": 1.8}},
                "color": {"field": "m", "type": "nominal", "scale": {"domain": ["FEstim", "IBDLD"], "range": ["#00008B", "#FFA500"]}}
              }
            },
            {
              "data": {"name": "lines"},
              "transform": [{"filter": "datum.p === 'A'"}],
              "mark": {"type": "line", "strokeWidth": 3},
              "encoding": {
                "x": {"field": "x", "type": "quantitative", "scale": {"domain": [-0.0072, 0.1467], "nice": false, "zero": false}, "axis": {"values": [0.025, 0.075, 0.125], "orient": "top", "labels": false, "ticks": false, "domain": false, "title": null, "grid": true, "gridWidth": 0.9}},
                "y": {"field": "y", "type": "quantitative", "scale": {"domain": [-0.0041, 0.0839], "nice": false, "zero": false}, "axis": {"values": [0.01, 0.03, 0.05, 0.07], "orient": "right", "labels": false, "ticks": false, "domain": false, "title": null, "grid": true, "gridWidth": 0.9}},
                "color": {"field": "m", "type": "nominal", "scale": {"domain": ["FEstim", "IBDLD"], "range": ["#00008B", "#FFA500"]}},
                "strokeDash": {"field": "m", "type": "nominal", "scale": {"domain": ["FEstim", "IBDLD"], "range": [[1, 0], [9, 7]]}}
              }
            }
          ]
        },
        {
          "width": 400, "height": 455,
          "view": {"fill": "#EBEBEB", "stroke": null},
          "title": {"text": "(B)", "anchor": "start", "frame": "group", "fontSize": 18, "fontWeight": "bold", "color": "#000000", "offset": -13, "dx": 2, "font": "Liberation Sans"},
          "resolve": {"scale": {"x": "independent", "y": "independent"}, "axis": {"x": "independent", "y": "independent"}},
          "layer": [
            {
              "data": {"name": "pts"},
              "transform": [{"filter": "datum.p === 'B'"}],
              "mark": {"type": "point", "shape": "circle", "filled": false, "size": 56, "strokeWidth": 1.2, "opacity": 1},
              "encoding": {
                "x": {"field": "x", "type": "quantitative", "scale": {"domain": [-0.0072, 0.1467], "nice": false, "zero": false}, "axis": {"values": [0, 0.05, 0.1], "format": ".2f", "title": null, "grid": true, "gridWidth": 1.8}},
                "y": {"field": "y", "type": "quantitative", "scale": {"domain": [-0.0041, 0.0839], "nice": false, "zero": false}, "axis": {"values": [0, 0.02, 0.04, 0.06, 0.08], "format": ".2f", "title": null, "grid": true, "gridWidth": 1.8}},
                "color": {"field": "m", "type": "nominal", "scale": {"domain": ["FEstim", "IBDLD"], "range": ["#00008B", "#FFA500"]}}
              }
            },
            {
              "data": {"name": "lines"},
              "transform": [{"filter": "datum.p === 'B'"}],
              "mark": {"type": "line", "strokeWidth": 3},
              "encoding": {
                "x": {"field": "x", "type": "quantitative", "scale": {"domain": [-0.0072, 0.1467], "nice": false, "zero": false}, "axis": {"values": [0.025, 0.075, 0.125], "orient": "top", "labels": false, "ticks": false, "domain": false, "title": null, "grid": true, "gridWidth": 0.9}},
                "y": {"field": "y", "type": "quantitative", "scale": {"domain": [-0.0041, 0.0839], "nice": false, "zero": false}, "axis": {"values": [0.01, 0.03, 0.05, 0.07], "orient": "right", "labels": false, "ticks": false, "domain": false, "title": null, "grid": true, "gridWidth": 0.9}},
                "color": {"field": "m", "type": "nominal", "scale": {"domain": ["FEstim", "IBDLD"], "range": ["#00008B", "#FFA500"]}},
                "strokeDash": {"field": "m", "type": "nominal", "scale": {"domain": ["FEstim", "IBDLD"], "range": [[1, 0], [9, 7]]}}
              }
            }
          ]
        }
      ]
    },
    {
      "width": 1388, "height": 90,
      "data": {"name": "cap"},
      "encoding": {
        "x": {"datum": 0, "type": "quantitative", "scale": {"domain": [0, 1]}, "axis": null},
        "y": {"field": "line", "type": "ordinal", "scale": {"type": "point", "domain": [1, 2, 3], "padding": 0.5}, "axis": null},
        "text": {"field": "t"}
      },
      "layer": [
        {"transform": [{"filter": "datum.s === 'b1'"}], "mark": {"type": "text", "align": "left", "baseline": "alphabetic", "fontSize": 18.5, "fontWeight": "bold", "color": "#222222"}},
        {"transform": [{"filter": "datum.s === 'r1'"}], "mark": {"type": "text", "align": "left", "baseline": "alphabetic", "fontSize": 17.5, "color": "#222222", "dx": 104}},
        {"transform": [{"filter": "datum.s === 'r2'"}], "mark": {"type": "text", "align": "left", "baseline": "alphabetic", "fontSize": 17.5, "color": "#222222"}},
        {"transform": [{"filter": "datum.s === 'r3'"}], "mark": {"type": "text", "align": "left", "baseline": "alphabetic", "fontSize": 17.5, "color": "#222222"}},
        {"transform": [{"filter": "datum.s === 'bA'"}], "mark": {"type": "text", "align": "left", "baseline": "alphabetic", "fontSize": 17.5, "fontWeight": "bold", "color": "#222222", "dx": 90}},
        {"transform": [{"filter": "datum.s === 'r4'"}], "mark": {"type": "text", "align": "left", "baseline": "alphabetic", "fontSize": 17.5, "color": "#222222", "dx": 123}},
        {"transform": [{"filter": "datum.s === 'bB'"}], "mark": {"type": "text", "align": "left", "baseline": "alphabetic", "fontSize": 17.5, "fontWeight": "bold", "color": "#222222", "dx": 292}},
        {"transform": [{"filter": "datum.s === 'r5'"}], "mark": {"type": "text", "align": "left", "baseline": "alphabetic", "fontSize": 17.5, "color": "#222222", "dx": 321}}
      ]
    }
  ]
}
